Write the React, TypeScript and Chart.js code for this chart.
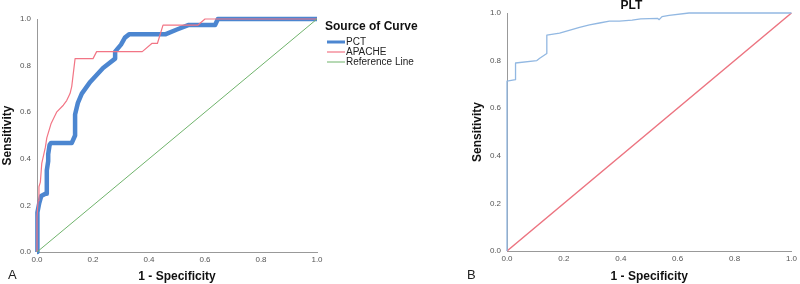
import React, { useEffect, useRef } from "react";
import { Chart, registerables } from "chart.js";

Chart.register(...registerables);

// Panel A: ROC curves (x = 1 - specificity, y = sensitivity)
const pctFpr = [0, 0, 0.003, 0.008, 0.015, 0.03, 0.035, 0.035, 0.04, 0.04, 0.045, 0.05, 0.124, 0.136, 0.136, 0.146, 0.16, 0.19, 0.236, 0.279, 0.279, 0.3, 0.314, 0.33, 0.46, 0.5, 0.54, 0.636, 0.646, 1];
const pctTpr = [0, 0.1, 0.17, 0.21, 0.24, 0.25, 0.25, 0.35, 0.39, 0.42, 0.46, 0.468, 0.468, 0.5, 0.59, 0.64, 0.68, 0.73, 0.79, 0.83, 0.86, 0.89, 0.92, 0.935, 0.935, 0.955, 0.974, 0.974, 1, 1];

const apacheFpr = [0, 0, 0.004, 0.007, 0.012, 0.017, 0.03, 0.035, 0.05, 0.07, 0.094, 0.106, 0.118, 0.124, 0.136, 0.2, 0.213, 0.376, 0.41, 0.43, 0.45, 0.575, 0.6, 1];
const apacheTpr = [0, 0.15, 0.22, 0.28, 0.3, 0.38, 0.45, 0.49, 0.55, 0.6, 0.63, 0.65, 0.68, 0.71, 0.83, 0.83, 0.86, 0.86, 0.895, 0.895, 0.974, 0.974, 1, 1];

const refFpr = [0, 1];
const refTpr = [0, 1];

// Panel B: PLT ROC curve
const pltFpr = [0, 0, 0.03, 0.03, 0.105, 0.115, 0.14, 0.14, 0.185, 0.255, 0.29, 0.325, 0.36, 0.395, 0.44, 0.47, 0.53, 0.535, 0.545, 0.57, 0.64, 1];
const pltTpr = [0, 0.714, 0.72, 0.79, 0.8, 0.81, 0.83, 0.907, 0.915, 0.94, 0.95, 0.958, 0.966, 0.966, 0.97, 0.975, 0.977, 0.972, 0.985, 0.99, 1, 1];

const axisTicks = [0, 0.2, 0.4, 0.6, 0.8, 1.0];
const legendTitle = "Source of Curve";
const legendLabels = ["PCT", "APACHE", "Reference Line"];
const panelBTitle = "PLT";
const xTitle = "1 - Specificity";
const yTitle = "Sensitivity";

const FONT = '"Liberation Sans", Arial, sans-serif';

const pts = (xs: number[], ys: number[]) => xs.map((x, i) => ({ x, y: ys[i] }));

const makeScales = (xHeight: number) => ({
  x: {
    type: "linear" as const,
    min: 0,
    max: 1,
    afterBuildTicks: (s: any) => {
      s.ticks = axisTicks.map((v) => ({ value: v }));
    },
    ticks: {
      callback: (v: any) => Number(v).toFixed(1),
      font: { family: FONT, size: 8 },
      color: "#555",
      padding: 3,
      maxRotation: 0,
    },
    grid: { display: false, drawTicks: false },
    border: { display: true, color: "#999", width: 1 },
    title: {
      display: true,
      text: xTitle,
      font: { family: FONT, size: 12, weight: "bold" as const },
      color: "#111",
      padding: { top: 0, bottom: 0 },
    },
    afterFit: (s: any) => {
      s.height = xHeight;
    },
  },
  y: {
    type: "linear" as const,
    min: 0,
    max: 1,
    afterBuildTicks: (s: any) => {
      s.ticks = axisTicks.map((v) => ({ value: v }));
    },
    ticks: {
      callback: (v: any) => Number(v).toFixed(1),
      font: { family: FONT, size: 8 },
      color: "#555",
      padding: 6,
    },
    grid: { display: false, drawTicks: false },
    border: { display: true, color: "#999", width: 1 },
    title: {
      display: true,
      text: yTitle,
      font: { family: FONT, size: 12, weight: "bold" as const },
      color: "#111",
      padding: { top: 0, bottom: 0 },
    },
    afterFit: (s: any) => {
      s.width = 37;
    },
  },
});

const legendPlugin = {
  id: "rocLegend",
  afterDraw(chart: any) {
    const { ctx, chartArea } = chart;
    const x0 = chartArea.right + 8;
    ctx.save();
    ctx.textBaseline = "middle";
    ctx.textAlign = "left";
    ctx.fillStyle = "#111";
    ctx.font = `bold 12px ${FONT}`;
    ctx.fillText(legendTitle, x0, chartArea.top + 8);
    ctx.font = `10px ${FONT}`;
    legendLabels.forEach((label, i) => {
      const ds = chart.data.datasets.find((d: any) => d.label === label);
      if (!ds) return;
      const y = chartArea.top + 23 + i * 10;
      ctx.strokeStyle = ds.borderColor;
      ctx.lineWidth = Math.min(ds.borderWidth, 3);
      ctx.beginPath();
      ctx.moveTo(x0 + 2, y);
      ctx.lineTo(x0 + 20, y);
      ctx.stroke();
      ctx.fillStyle = "#222";
      ctx.fillText(label, x0 + 21, y);
    });
    ctx.restore();
  },
};

export default function App() {
  const refA = useRef<HTMLCanvasElement>(null);
  const refB = useRef<HTMLCanvasElement>(null);

  useEffect(() => {
    const lineDs = (label: string, xs: number[], ys: number[], color: string, width: number) => ({
      label,
      data: pts(xs, ys),
      showLine: true,
      borderColor: color,
      backgroundColor: color,
      borderWidth: width,
      pointRadius: 0,
      pointHoverRadius: 0,
      tension: 0,
      fill: false,
      clip: false as any,
      borderJoinStyle: "round" as const,
    });

    const chartA = new Chart(refA.current!, {
      type: "scatter",
      data: {
        datasets: [
          lineDs("Reference Line", refFpr, refTpr, "#6fb36b", 1),
          lineDs("APACHE", apacheFpr, apacheTpr, "#f27585", 1.2),
          lineDs("PCT", pctFpr, pctTpr, "#4c86d0", 4.5),
        ],
      },
      options: {
        responsive: false,
        animation: false,
        devicePixelRatio: 1,
        layout: { padding: { left: 0, right: 123, top: 19, bottom: 0 } },
        plugins: { legend: { display: false }, tooltip: { enabled: false }, title: { display: false } },
        scales: makeScales(32) as any,
      },
      plugins: [legendPlugin],
    });

    const chartB = new Chart(refB.current!, {
      type: "scatter",
      data: {
        datasets: [
          lineDs("PLT", pltFpr, pltTpr, "#92b8e2", 1.3),
          lineDs("Reference Line", refFpr, refTpr, "#ec7480", 1.5),
        ],
      },
      options: {
        responsive: false,
        animation: false,
        devicePixelRatio: 1,
        layout: { padding: { left: 70, right: 7, top: 0, bottom: 0 } },
        plugins: {
          legend: { display: false },
          tooltip: { enabled: false },
          title: {
            display: true,
            text: panelBTitle,
            font: { family: FONT, size: 12, weight: "bold", lineHeight: 1 },
            color: "#111",
            padding: { top: 0, bottom: 1 },
          },
        },
        scales: makeScales(33) as any,
      },
    });

    return () => {
      chartA.destroy();
      chartB.destroy();
    };
  }, []);

  const letter: React.CSSProperties = {
    position: "absolute",
    top: 268,
    fontFamily: FONT,
    fontSize: 13,
    lineHeight: "13px",
    color: "#222",
  };

  return (
    <div style={{ position: "fixed", left: 0, top: 0, width: 800, height: 284, background: "#fff", overflow: "hidden" }}>
      <canvas ref={refA} width={440} height={284} style={{ position: "absolute", left: 0, top: 0 }} />
      <canvas ref={refB} width={400} height={284} style={{ position: "absolute", left: 400, top: 0 }} />
      <div style={{ ...letter, left: 8 }}>A</div>
      <div style={{ ...letter, left: 467 }}>B</div>
    </div>
  );
}
